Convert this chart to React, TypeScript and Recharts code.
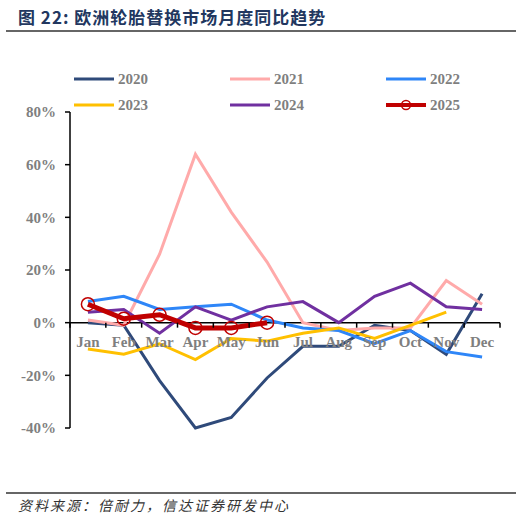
import React from 'react';
import { LineChart, Line, XAxis, YAxis, ReferenceLine } from 'recharts';

const months = ['Jan', 'Feb', 'Mar', 'Apr', 'May', 'Jun', 'Jul', 'Aug', 'Sep', 'Oct', 'Nov', 'Dec'];
const y2020 = [0, -1, -22, -40, -36, -21, -9, -9, -1, -3, -12, 11];
const y2021 = [1, -1, 26, 64, 42, 23, 0, -3, -2, -2, 16, 7];
const y2022 = [8, 10, 5, 6, 7, 1, -2, -3, -8, -3, -11, -13];
const y2023 = [-10, -12, -8, -14, -6, -7, -4, -2, -6, -1, 4, null];
const y2024 = [4, 5, -4, 6, 1, 6, 8, 0, 10, 15, 6, 5];
const y2025 = [7, 1.5, 3, -2, -2, 0, null, null, null, null, null, null];
const yTicks = [-40, -20, 0, 20, 40, 60, 80];

const seriesList = [
  { key: 's2020', name: '2020', values: y2020, color: '#2F4A7A', width: 3 },
  { key: 's2021', name: '2021', values: y2021, color: '#FFAAAA', width: 3 },
  { key: 's2022', name: '2022', values: y2022, color: '#2E86F8', width: 3 },
  { key: 's2023', name: '2023', values: y2023, color: '#FFC000', width: 3 },
  { key: 's2024', name: '2024', values: y2024, color: '#7030A0', width: 3 },
  { key: 's2025', name: '2025', values: y2025, color: '#C00000', width: 5 },
];

const data = months.map((m, i) => {
  const row: any = { month: m };
  seriesList.forEach((s) => {
    row[s.key] = s.values[i];
  });
  return row;
});

const W = 522;
const H = 521;
const PLOT_LEFT = 70;
const PLOT_RIGHT = 500;
const PLOT_TOP = 112;
const PLOT_BOTTOM = 428;
const Y_MIN = -40;
const Y_MAX = 80;
const ZERO_Y = PLOT_TOP + ((Y_MAX - 0) / (Y_MAX - Y_MIN)) * (PLOT_BOTTOM - PLOT_TOP);
const BAND = (PLOT_RIGHT - PLOT_LEFT) / months.length;

const SERIF = '"Times New Roman", "Liberation Serif", serif';
const GRAY = '#7F7F7F';

const XTick = (props: any) => {
  const { x, payload, index } = props;
  const left = x - BAND / 2;
  const right = x + BAND / 2;
  return (
    <g>
      <line x1={left} x2={left} y1={ZERO_Y} y2={ZERO_Y + 5} stroke="#000" strokeWidth={1.5} />
      {index === months.length - 1 && (
        <line x1={right} x2={right} y1={ZERO_Y} y2={ZERO_Y + 5} stroke="#000" strokeWidth={1.5} />
      )}
      <text
        x={x}
        y={ZERO_Y + 24}
        textAnchor="middle"
        fill={GRAY}
        fontFamily={SERIF}
        fontWeight="bold"
        fontSize={15}
      >
        {payload.value}
      </text>
    </g>
  );
};

const legendCols = [74, 230, 386];
const legendRows = [79, 105];

export default function App() {
  return (
    <div style={{ position: 'absolute', left: 0, top: 0, width: W, height: H, background: '#fff' }}>
      <div
        style={{
          position: 'absolute',
          left: 18,
          top: 4,
          fontFamily: '"Noto Sans CJK SC", sans-serif',
          fontWeight: 'bold',
          fontSize: 17,
          color: '#22375F',
          letterSpacing: 1,
          whiteSpace: 'nowrap',
        }}
      >
        图 22:&nbsp;欧洲轮胎替换市场月度同比趋势
      </div>
      <div style={{ position: 'absolute', left: 6, top: 30, width: 510, height: 2, background: '#666' }} />
      <div style={{ position: 'absolute', left: 6, top: 492, width: 510, height: 1.5, background: '#666' }} />
      <div
        style={{
          position: 'absolute',
          left: 18,
          top: 495,
          fontFamily: '"Noto Sans CJK SC", sans-serif',
          fontStyle: 'italic',
          fontSize: 14,
          letterSpacing: 2,
          color: '#333',
          whiteSpace: 'nowrap',
        }}
      >
        资料来源：倍耐力，信达证券研发中心
      </div>
      <svg style={{ position: 'absolute', left: 0, top: 0 }} width={W} height={130}>
        {seriesList.map((s, i) => {
          const cx = legendCols[i % 3];
          const cy = legendRows[Math.floor(i / 3)];
          return (
            <g key={s.key}>
              <line x1={cx} x2={cx + 40} y1={cy} y2={cy} stroke={s.color} strokeWidth={s.width === 5 ? 4 : 3} />
              {s.key === 's2025' && (
                <circle cx={cx + 20} cy={cy} r={4.5} fill="none" stroke={s.color} strokeWidth={1.5} />
              )}
              <text
                x={cx + 44}
                y={cy + 5}
                fill={GRAY}
                fontFamily={SERIF}
                fontWeight="bold"
                fontSize={15}
              >
                {s.name}
              </text>
            </g>
          );
        })}
      </svg>
      <div style={{ position: 'absolute', left: 0, top: 0 }}>
        <LineChart
          width={W}
          height={H}
          data={data}
          margin={{ top: PLOT_TOP, left: 0, right: W - PLOT_RIGHT, bottom: H - PLOT_BOTTOM - 30 }}
        >
          <XAxis
            dataKey="month"
            axisLine={false}
            tickLine={false}
            height={30}
            interval={0}
            padding={{ left: BAND / 2, right: BAND / 2 }}
            tick={<XTick />}
          />
          <YAxis
            width={PLOT_LEFT}
            domain={[Y_MIN, Y_MAX]}
            ticks={yTicks}
            interval={0}
            tickFormatter={(v: number) => `${v}%`}
            axisLine={{ stroke: '#000', strokeWidth: 1.5 }}
            tickLine={{ stroke: '#000', strokeWidth: 1.5 }}
            tickSize={5}
            tickMargin={9}
            tick={{ fill: GRAY, fontFamily: SERIF, fontWeight: 'bold', fontSize: 15 }}
          />
          <ReferenceLine y={0} stroke="#000" strokeWidth={1.5} />
          {seriesList.map((s) => (
            <Line
              key={s.key}
              dataKey={s.key}
              name={s.name}
              type="linear"
              stroke={s.color}
              strokeWidth={s.width}
              isAnimationActive={false}
              connectNulls={false}
              dot={
                s.key === 's2025'
                  ? { r: 6.5, fill: 'none', stroke: s.color, strokeWidth: 1.5 }
                  : false
              }
              activeDot={false}
            />
          ))}
        </LineChart>
      </div>
    </div>
  );
}
